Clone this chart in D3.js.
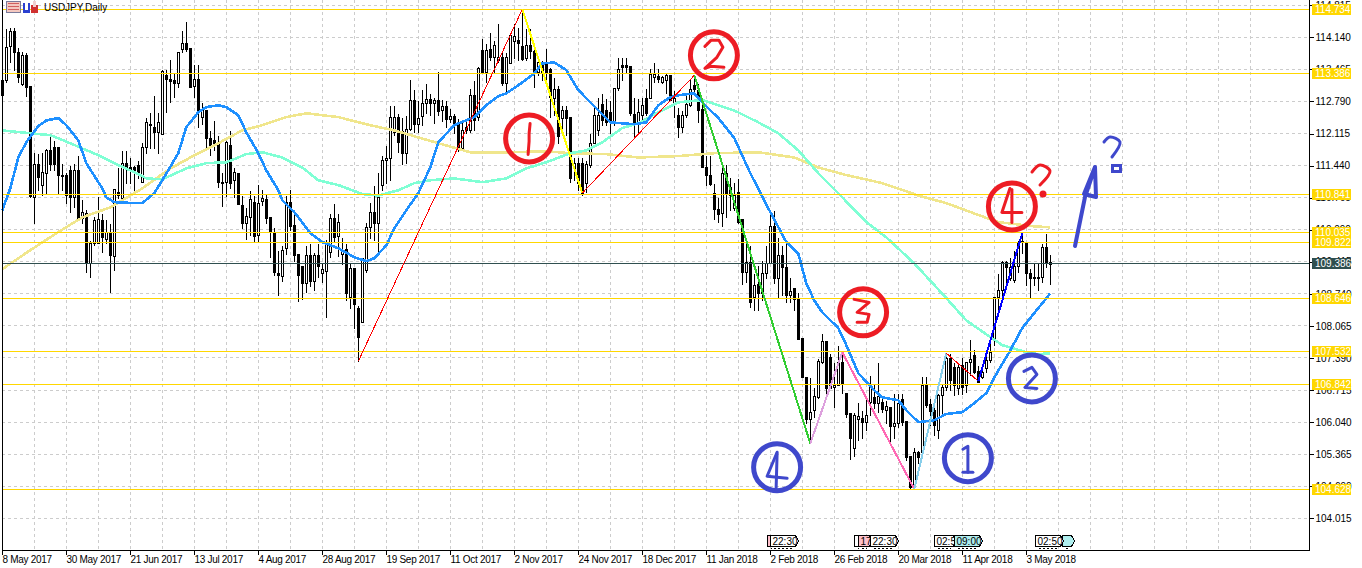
<!DOCTYPE html>
<html><head><meta charset="utf-8">
<script src="https://cdn.jsdelivr.net/npm/d3@7"></script>
<style>
html,body{margin:0;padding:0;background:#fff;overflow:hidden}
svg{display:block}
text{font-family:"Liberation Sans",Arial,sans-serif;font-size:10px;fill:#000}
</style></head><body>
<svg id="c" width="1362" height="568"></svg>
<script>
const opens=[113.24,113.24,113.95,114.27,113.83,113.15,113.76,113.11,110.77,111.47,111.03,111.28,111.76,111.83,111.83,111.24,111.24,111.34,110.77,111.34,
110.33,110.44,109.38,109.80,109.80,110.29,109.89,110.04,109.53,110.88,110.75,111.49,111.40,111.40,111.45,111.09,111.83,112.31,112.25,112.14,
112.10,113.34,113.26,113.24,113.17,113.89,114.01,113.91,113.11,113.26,112.46,112.60,112.02,111.97,111.89,111.09,111.09,111.87,111.13,111.28,
110.60,110.23,110.35,110.67,109.97,110.69,110.73,110.35,110.02,109.17,109.11,109.70,110.67,110.18,109.57,109.32,108.96,109.55,109.01,109.55,
109.17,109.21,109.62,110.33,109.95,109.57,109.68,108.67,109.28,108.44,108.14,109.24,110.14,110.46,110.23,111.03,111.55,111.59,112.14,112.46,
112.16,111.70,112.20,112.82,112.31,112.48,112.75,112.84,112.75,112.82,112.60,112.69,112.41,112.48,112.33,111.80,112.18,112.18,112.92,112.46,
113.87,113.40,113.89,113.72,113.66,113.72,113.17,113.59,114.06,114.08,113.95,113.70,113.97,113.85,113.40,113.61,113.59,113.47,112.86,113.05,
112.44,112.60,112.46,111.38,111.49,111.49,111.07,111.45,111.91,112.18,112.73,112.60,112.56,112.33,113.07,113.55,113.55,113.53,112.52,112.35,
112.50,112.86,112.86,113.30,113.32,113.19,113.24,113.34,112.75,112.50,112.25,112.50,112.71,113.13,113.03,112.63,111.40,111.24,110.86,110.52,
110.44,111.28,110.98,110.54,110.88,110.31,109.19,109.40,108.67,108.94,108.75,109.17,109.38,110.16,109.07,109.55,109.30,108.71,108.86,108.63,
107.80,106.98,106.10,106.29,106.56,107.30,107.74,107.40,106.77,106.81,107.30,106.65,106.23,105.49,106.10,106.12,106.04,106.46,106.56,106.44,
106.46,106.29,106.35,105.95,106.02,106.52,106.06,105.32,104.67,105.41,105.41,106.81,106.41,106.29,105.87,106.60,106.77,107.38,107.19,106.75,
107.24,106.81,107.30,107.45,107.11,106.98,107.17,107.34,107.76,108.67,108.82,109.40,109.07,109.03,109.32,109.85,109.80,109.17,109.09,109.09,
109.09,109.72,109.36];
const highs=[113.28,114.33,114.35,114.35,113.93,113.85,113.83,113.11,111.72,111.70,111.72,111.80,112.12,111.97,111.85,111.49,111.30,111.45,111.49,111.66,
110.73,110.52,109.87,110.37,110.79,110.44,110.31,110.23,110.96,111.40,111.76,111.76,111.61,111.45,111.55,111.93,112.46,112.56,112.92,112.56,
113.47,113.47,113.68,113.38,113.85,114.29,114.48,113.93,113.57,113.57,112.77,112.62,112.18,112.39,112.08,111.30,111.97,112.18,111.40,111.30,
110.81,110.56,110.92,110.81,111.05,110.94,110.84,110.35,110.14,109.66,109.76,110.81,110.94,110.44,109.59,109.32,109.76,109.80,109.62,109.80,
109.40,109.89,110.44,110.65,110.44,109.93,109.80,109.38,109.30,108.50,109.51,110.25,110.67,111.03,111.30,111.66,111.87,112.71,112.71,112.54,
112.46,112.50,113.26,113.05,112.82,113.05,113.17,112.96,112.88,113.43,112.84,112.82,112.65,112.54,112.44,112.39,112.39,113.07,113.24,113.53,
114.12,114.01,114.25,114.08,114.44,113.83,113.83,114.25,114.44,114.35,114.73,114.33,114.33,114.04,113.72,113.66,113.91,113.51,113.30,113.13,
112.71,112.71,112.46,111.61,111.61,111.61,111.55,112.12,112.67,112.88,112.96,112.86,112.82,113.09,113.72,113.72,113.72,113.55,112.88,112.86,
112.88,113.07,113.49,113.61,113.49,113.34,113.38,113.36,113.03,112.67,112.60,112.92,113.28,113.34,113.17,112.82,111.66,111.66,111.07,110.77,
111.45,111.47,111.19,111.09,111.17,110.33,109.80,109.76,109.17,109.34,109.45,109.76,110.50,110.50,109.93,109.76,109.80,109.09,108.88,108.77,
107.80,106.98,106.98,106.77,107.38,107.91,107.76,107.49,107.30,107.66,107.51,106.67,106.25,106.25,106.46,106.29,106.58,107.03,106.86,107.30,
106.60,106.50,106.35,106.65,106.65,106.65,106.08,105.32,105.51,105.45,107.01,107.01,106.54,106.50,106.65,106.86,107.49,107.49,107.30,107.30,
107.40,107.30,107.78,107.57,107.24,107.19,107.49,107.85,108.69,109.17,109.45,109.45,109.51,109.66,109.87,110.02,109.80,109.28,109.38,109.38,
109.80,110.02,109.57];
const lows=[112.92,113.19,113.61,113.45,113.19,113.13,112.90,110.77,110.23,110.92,110.81,110.86,111.34,111.34,110.86,110.92,110.65,110.46,110.56,110.29,
110.23,109.19,109.09,109.76,109.80,109.62,109.80,108.77,109.24,110.75,110.73,111.07,111.07,110.92,111.17,111.09,111.70,111.80,111.80,111.70,
112.10,112.56,112.77,112.88,113.09,113.83,113.85,113.09,112.88,112.25,112.31,111.80,111.66,111.76,110.98,110.58,110.79,110.96,110.77,110.63,
110.12,109.89,109.97,109.83,109.83,110.60,110.23,109.51,109.13,108.71,109.01,109.57,110.08,109.43,108.58,108.63,108.77,108.90,108.82,109.09,
108.98,108.25,109.51,109.83,109.53,109.36,108.60,108.44,108.02,107.32,108.14,109.19,109.91,109.87,109.59,110.92,111.07,111.13,112.08,111.72,
111.47,111.49,112.18,112.14,112.14,112.29,112.54,112.50,112.33,112.50,112.37,112.25,112.35,112.12,111.74,111.76,112.12,112.14,112.18,112.39,
113.38,113.19,113.66,113.40,113.61,113.13,112.96,113.59,113.70,113.66,113.66,113.66,113.70,113.09,113.34,113.24,113.19,112.46,112.50,111.91,
112.08,112.08,111.09,111.13,110.92,110.81,110.88,111.40,111.91,112.08,112.29,112.29,112.12,112.29,113.03,113.24,113.40,112.50,112.04,112.12,
112.33,112.50,112.86,113.19,113.19,113.17,112.96,112.82,112.46,112.04,112.14,112.46,112.69,112.92,112.35,111.40,111.03,111.03,110.31,110.25,
110.16,110.35,110.50,110.50,110.23,108.94,108.98,108.46,108.39,108.39,108.60,109.07,109.38,108.96,108.65,108.71,108.56,108.56,108.39,107.78,
106.98,106.02,105.59,106.14,106.54,107.28,106.61,106.75,106.35,106.81,106.65,106.14,105.26,105.32,105.66,105.70,105.87,106.18,106.33,106.25,
106.25,106.02,105.62,105.70,105.93,105.97,105.24,104.65,104.65,105.17,105.38,106.35,105.97,105.76,105.70,106.23,106.71,106.71,106.60,106.63,
106.63,106.67,107.03,107.07,106.88,106.96,107.09,107.30,107.66,108.33,108.65,108.96,109.03,108.98,109.19,109.59,108.92,108.65,108.92,108.82,
108.98,109.30,108.94];
const closes=[112.92,113.93,114.27,113.83,113.30,113.76,113.09,110.79,111.47,111.19,111.30,111.76,111.47,111.47,111.24,111.22,110.81,110.77,111.34,110.33,
110.46,109.38,109.80,110.29,110.31,109.93,110.04,109.55,110.94,110.81,111.49,111.40,111.34,111.30,111.28,111.83,112.35,112.29,112.14,112.35,
113.43,113.26,113.21,113.17,113.83,114.01,113.89,113.09,113.26,112.60,112.60,112.02,111.87,111.89,111.09,111.07,111.93,111.07,111.30,110.63,
110.23,110.37,110.73,109.95,110.65,110.75,110.33,110.04,109.19,109.13,109.66,110.67,110.16,109.55,109.13,108.96,109.55,109.01,109.55,109.32,
109.26,109.83,110.33,109.93,110.25,109.66,108.75,109.28,108.52,107.83,109.49,110.14,110.46,110.23,110.77,111.55,111.59,112.46,112.46,111.93,
111.70,112.20,112.82,112.31,112.44,112.75,112.84,112.75,112.82,112.58,112.69,112.41,112.48,112.33,111.80,112.18,112.25,112.92,112.39,113.49,
113.40,113.87,113.72,113.97,113.72,113.17,113.72,114.18,114.16,114.01,113.68,113.97,113.85,113.38,113.61,113.40,113.40,112.88,113.05,112.06,
112.60,112.44,111.17,111.49,111.07,110.86,111.47,111.91,112.50,112.50,112.39,112.35,112.35,113.07,113.47,113.51,113.51,112.54,112.33,112.56,
112.71,112.54,113.36,113.36,113.26,113.30,113.34,112.82,112.86,112.25,112.50,112.73,113.05,113.05,112.60,111.40,111.24,111.05,110.52,110.42,
111.28,110.84,110.81,110.81,110.25,109.19,109.40,108.56,108.92,108.75,109.17,109.38,110.16,109.07,109.55,109.30,108.71,108.79,108.63,107.78,
106.98,106.10,106.25,106.58,107.32,107.74,106.75,106.75,106.81,107.30,106.86,106.20,105.70,106.18,106.16,106.04,106.18,106.77,106.44,106.58,
106.31,106.37,105.95,106.02,106.44,106.04,105.30,104.67,105.41,105.30,106.81,106.39,106.27,105.97,106.60,106.77,107.38,106.92,106.81,107.19,
106.77,107.30,107.36,107.09,106.88,107.09,107.34,107.51,108.67,108.82,109.40,109.30,109.30,109.32,109.83,109.83,109.17,109.07,109.07,109.07,
109.72,109.38,109.39];

const fastBars=[0,2,4,6,9,11,14,16,19,21,25,26,28,33,35,38,40,44,46,49,51,54,56,59,61,64,66,69,70,73,77,80,84,88,91,93,96,98,101,104,107,109,113,118,121,124,126,129,133,135,138,141,144,149,152,158,161,164,167,169,173,175,179,183,187,192,196,199,201,203,205,209,211,214,218,220,224,226,229,233,236,240,243,246,248,252,255,259,262];
const fastMA=[110.50,110.96,111.61,111.93,112.27,112.39,112.44,112.29,111.97,111.49,110.96,110.77,110.67,110.65,110.65,110.86,111.13,111.70,112.25,112.56,112.67,112.71,112.67,112.50,112.14,111.70,111.34,110.92,110.71,110.46,110.02,109.83,109.70,109.51,109.43,109.49,109.76,110.12,110.50,110.86,111.40,111.93,112.29,112.46,112.71,112.90,112.96,113.13,113.38,113.59,113.61,113.45,113.03,112.60,112.35,112.31,112.35,112.71,112.88,112.92,112.96,112.77,112.44,112.02,111.28,110.46,109.83,109.59,108.96,108.60,108.35,108.02,107.66,107.07,106.71,106.56,106.50,106.29,106.04,106.08,106.21,106.25,106.44,106.65,106.98,107.55,108.02,108.44,108.75];
const midBars=[0,7,12,17,20,24,28,33,36,40,46,51,56,61,65,70,75,79,84,90,94,99,103,107,113,120,126,131,136,142,146,150,155,159,164,169,175,179,183,189,194,199,204,210,216,221,228,236,241,247,250,256,259,262];
const midMA=[112.18,112.12,112.08,111.91,111.80,111.66,111.49,111.30,111.17,111.15,111.38,111.49,111.51,111.68,111.72,111.61,111.40,111.13,111.03,110.84,110.81,110.92,111.07,111.13,111.17,111.09,111.17,111.38,111.51,111.70,111.76,111.93,112.23,112.33,112.56,112.77,112.82,112.71,112.60,112.35,112.12,111.76,111.28,110.77,110.25,109.93,109.38,108.65,108.18,107.83,107.66,107.51,107.47,107.49];
const slowBars=[0,7,14,20,27,35,42,49,54,60,65,71,76,84,93,98,109,117,126,136,142,151,159,169,178,189,198,204,211,220,229,236,244,249,258,262];
const slowMA=[109.26,109.66,110.04,110.35,110.56,110.96,111.38,111.70,111.91,112.18,112.29,112.46,112.54,112.46,112.27,112.18,111.91,111.72,111.72,111.74,111.70,111.68,111.61,111.64,111.70,111.72,111.61,111.40,111.24,111.07,110.81,110.65,110.40,110.25,110.16,110.14];

const goldLevels=[114.734,113.386,110.841,110.035,109.822,108.646,107.532,106.842,104.628];
const lastPrice=109.386;
const priceTicks=[114.815,114.140,113.465,112.790,112.115,111.440,110.765,110.090,109.415,108.740,108.065,107.390,106.715,106.040,105.365,104.690,104.015];
const dateLabels=["8 May 2017","30 May 2017","21 Jun 2017","13 Jul 2017","4 Aug 2017","28 Aug 2017","19 Sep 2017","11 Oct 2017","2 Nov 2017","24 Nov 2017","18 Dec 2017","11 Jan 2018","2 Feb 2018","26 Feb 2018","20 Mar 2018","11 Apr 2018","3 May 2018"];

const trendSegments=[
 [89,107.32,130,114.73,"#ff0000",1],
 [130,114.73,145,110.86,"#ffff00",2],
 [145,110.86,173,113.34,"#ff0000",1],
 [173,113.34,202,105.59,"#32cd32",2],
 [202,105.59,210,107.51,"#dda0dd",2],
 [210,107.51,228,104.63,"#ff69b4",2],
 [228,104.63,236,107.49,"#87ceeb",2],
 [236,107.49,244,106.90,"#ff0000",1],
 [244,106.90,255,110.02,"#0000ff",2]
];
const RED="#ed1c24",BLUE="#3f48cc";
const circled=[
 [131.7,112.01,RED,[[[1,-15],[0,-5],[0,3],[-1,16]]]],
 [177.9,113.76,RED,[[[-9,-9],[-3,-15],[5,-15],[9,-8],[3,2],[-9,13],[-3,11],[10,12]]]],
 [215.2,108.35,RED,[[[-9,-13],[6,-10],[-6,0],[6,2],[4,10],[-6,10]]]],
 [252.4,110.58,RED,[[[-2,-18],[-10,6],[10,6]],[[0,-17],[0,16]]]],
 [193.7,105.09,BLUE,[[[0,-15],[-10,9],[10,11]],[[0,-14],[-1,22]]]],
 [241.4,105.28,BLUE,[[[-5,-9],[0,-12],[0,14]],[[-5,14],[5,14]]]],
 [257.4,106.96,BLUE,[[[-8,-7],[0,-11],[5,-4],[-7,9],[5,10]]]]
];
// event-marker flags on the time axis (later flags lie over earlier ones)
const eventFlags=[
 [191.2,"","#ffc0cb",10],
 [191.9,"22:30","#ffffff",28],
 [213,"","#ffffff",10],
 [213.9,"17","#ffc0cb",14],
 [217,"22:30","#ffffff",28],
 [233,"02:5","#ffffff",22],
 [238,"09:00","#afeeee",28],
 [265,"","#afeeee",12],
 [258.2,"02:50","#ffffff",28]
];

const left=2,right=1309,bottom=550;
const svg=d3.select("#c");
const x=d3.scaleLinear().domain([0,262]).range([2.3,1050.3]);
const y=d3.scaleLinear().domain([104.015,114.14]).range([518.3,37.3]);
const px=v=>Math.floor(x(v))+0.5;
const py=v=>Math.floor(y(v))+0.5;

const grid=svg.append("g").attr("shape-rendering","crispEdges").attr("stroke","#cccccc").attr("stroke-dasharray","3,3");
grid.selectAll("line.h").data(priceTicks).join("line").attr("x1",left).attr("x2",right).attr("y1",py).attr("y2",py);
const gridBars=d3.range(8,320,8);
grid.selectAll("line.v").data(gridBars).join("line").attr("x1",px).attr("x2",px).attr("y1",0).attr("y2",bottom);

const idx=d3.range(opens.length);
const cg=svg.append("g").attr("shape-rendering","crispEdges").attr("stroke","#000");
cg.selectAll("line").data(idx).join("line")
 .attr("x1",i=>px(i)).attr("x2",i=>px(i)).attr("y1",i=>py(highs[i])).attr("y2",i=>py(lows[i])+0.5);
cg.selectAll("rect").data(idx).join("rect")
 .attr("x",i=>px(i)-1).attr("width",2)
 .attr("y",i=>py(Math.max(opens[i],closes[i])))
 .attr("height",i=>Math.max(py(Math.min(opens[i],closes[i]))-py(Math.max(opens[i],closes[i])),0.01))
 .attr("fill",i=>closes[i]>=opens[i]?"#fff":"#000");

const ma=d3.line().x(d=>x(d[0])).y(d=>y(d[1]));
[[slowBars,slowMA,"#f0e68c"],[midBars,midMA,"#7fffd4"],[fastBars,fastMA,"#1e90ff"]].forEach(([b,v,c])=>{
 svg.append("path").attr("d",ma(b.map((k,j)=>[k,v[j]]))).attr("fill","none").attr("stroke",c).attr("stroke-width",2.6).attr("shape-rendering","crispEdges");
});

const lv=svg.append("g").attr("shape-rendering","crispEdges");
lv.selectAll("line").data(goldLevels).join("line").attr("x1",left).attr("x2",right).attr("y1",py).attr("y2",py).attr("stroke","#ffd700");
lv.append("line").attr("x1",left).attr("x2",right).attr("y1",py(lastPrice)).attr("y2",py(lastPrice)).attr("stroke","#2f4f4f");

svg.append("g").attr("shape-rendering","crispEdges").selectAll("line").data(trendSegments).join("line")
 .attr("x1",d=>x(d[0])).attr("y1",d=>y(d[1])).attr("x2",d=>x(d[2])).attr("y2",d=>y(d[3]))
 .attr("stroke",d=>d[4]).attr("stroke-width",d=>d[5]);

const stroke=d3.line();
const curved=d3.line().curve(d3.curveCatmullRom);
circled.forEach(([b,p,c,st])=>{
 const g=svg.append("g").attr("transform",`translate(${x(b)},${y(p)})`);
 g.append("circle").attr("r",23.5).attr("fill","none").attr("stroke",c).attr("stroke-width",5);
 st.forEach(s=>g.append("path").attr("d",stroke(s)).attr("fill","none").attr("stroke",c).attr("stroke-width",3).attr("stroke-linejoin","round").attr("stroke-linecap","round"));
});
const scribble=(gen,pts,c,w)=>svg.append("path").attr("d",gen(pts)).attr("fill","none").attr("stroke",c).attr("stroke-width",w).attr("stroke-linejoin","round").attr("stroke-linecap","round");
scribble(curved,[[1032,172],[1040,165],[1050,171],[1040,185]],RED,3);
svg.append("circle").attr("cx",1043).attr("cy",194).attr("r",3.5).attr("fill",RED);
scribble(stroke,[[1075,246],[1085,197],[1095,167],[1084,194],[1096,197],[1095,167]],BLUE,4);
scribble(curved,[[1104,142],[1110,137],[1120,142],[1112,157]],BLUE,3);
svg.append("rect").attr("x",1112.5).attr("y",165.5).attr("width",8).attr("height",6).attr("fill","none").attr("stroke",BLUE).attr("stroke-width",3);

const frame=svg.append("g").attr("shape-rendering","crispEdges").attr("stroke","#000");
frame.append("line").attr("x1",2.5).attr("x2",2.5).attr("y1",0).attr("y2",bottom);

const yAxis=d3.axisRight(y).tickValues(priceTicks).tickFormat(d3.format(".3f")).tickSize(4).tickPadding(2);
const ya=svg.append("g").attr("transform",`translate(${right+0.5},0)`).attr("shape-rendering","crispEdges").call(yAxis);
ya.attr("font-size",null).attr("font-family",null);
ya.select(".domain").attr("d",`M0,0V${bottom+0.5}`).attr("stroke","#000");

const xAxis=d3.axisBottom(d3.scaleLinear().domain([0,262]).range([2,1050])).tickValues(dateLabels.map((d,i)=>i*16)).tickFormat((d,i)=>dateLabels[i]).tickSize(4).tickPadding(2);
const xa=svg.append("g").attr("transform",`translate(0,${bottom+0.5})`).attr("shape-rendering","crispEdges").call(xAxis);
xa.attr("font-size",null).attr("font-family",null);
xa.select(".domain").attr("d",`M2,0H${right+0.5}`).attr("stroke","#000");
xa.selectAll("text").attr("text-anchor","start").attr("y",5).attr("dy","0.71em").style("letter-spacing","-0.3px");

const labels=goldLevels.map(v=>[v,"#ffd700"]).concat([[lastPrice,"#2f4f4f"]]);
const lab=svg.append("g");
lab.selectAll("rect").data(labels).join("rect").attr("shape-rendering","crispEdges")
 .attr("x",1312).attr("width",39).attr("y",d=>Math.floor(y(d[0]))-5).attr("height",11).attr("fill",d=>d[1]);
lab.selectAll("text").data(labels).join("text").attr("x",1315).attr("y",d=>Math.floor(y(d[0]))+4)
 .text(d=>d[0].toFixed(3)).style("fill","#fff");

const fl=svg.append("g");
eventFlags.forEach(([b,t,c,w])=>{
 const x0=Math.round(x(b))+0.5,y0=535.5,h=11;
 fl.append("path").attr("d",`M${x0},${y0}h${w-3}l3,${h/2}l-3,${h/2}h${-(w-3)}z`).attr("fill",c).attr("stroke","#000").attr("shape-rendering","crispEdges");
 if(t)fl.append("text").attr("x",x0+2).attr("y",y0+9).text(t);
 fl.append("line").attr("x1",x0+3).attr("x2",x0+w-6).attr("y1",y0+h+2).attr("y2",y0+h+2).attr("stroke","#000").attr("stroke-dasharray","2,2").attr("shape-rendering","crispEdges");
});

const ic=svg.append("g").attr("shape-rendering","crispEdges");
ic.append("rect").attr("x",6.5).attr("y",1.5).attr("width",14).attr("height",11).attr("fill","#f4c8c0").attr("stroke","#7a7a9a");
d3.range(3).forEach(k=>ic.append("rect").attr("x",8).attr("y",3+k*3).attr("width",11).attr("height",1).attr("fill","#d06060"));
ic.append("rect").attr("x",23).attr("y",3).attr("width",7).attr("height",10).attr("fill","#2a40d0");
ic.append("rect").attr("x",25).attr("y",3).attr("width",3).attr("height",7).attr("fill","#fff");
ic.append("rect").attr("x",31).attr("y",5).attr("width",7).attr("height",8).attr("fill","#d03030");
ic.append("rect").attr("x",33).attr("y",1).attr("width",3).attr("height",6).attr("fill","#f0d0d0");
svg.append("text").attr("x",44).attr("y",11).text("USDJPY,Daily");
</script>
</body></html>
